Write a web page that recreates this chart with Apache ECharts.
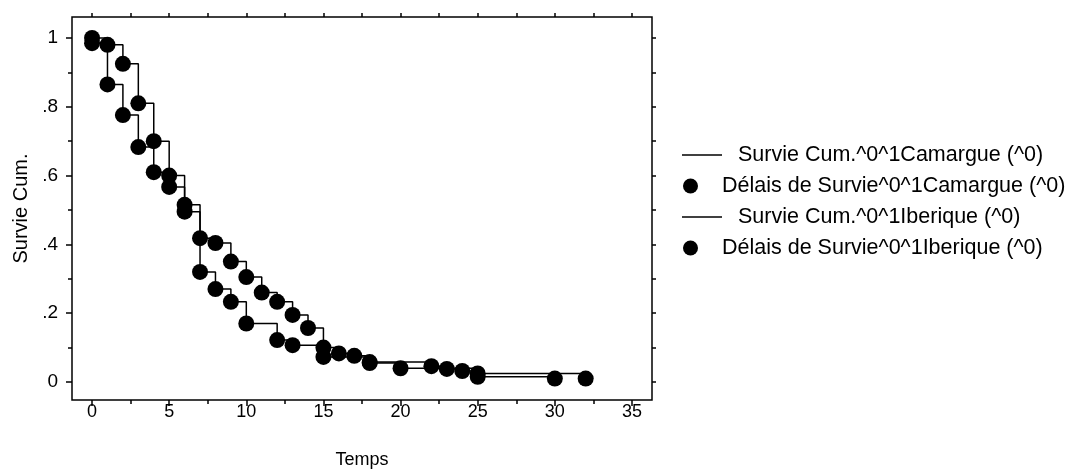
<!DOCTYPE html>
<html>
<head>
<meta charset="utf-8">
<title>Survie Cum.</title>
<script src="https://cdn.jsdelivr.net/npm/echarts@6/dist/echarts.min.js"></script>
<style>
    html, body { margin: 0; padding: 0; background: #fff; }
    #chart { width: 1069px; height: 470px; }
</style>
</head>
<body>
<div id="chart"></div>
<script>
    // valeurs
    var tempsCamargue = [0, 1, 2, 3, 4, 5, 6, 7, 8, 9, 10, 11, 12, 13, 14, 15, 16, 17, 18, 22, 23, 24, 25, 32];
    var survieCamargue = [1.0, 0.98, 0.925, 0.81, 0.70, 0.60, 0.515, 0.418, 0.404, 0.35, 0.305, 0.26, 0.233, 0.195, 0.157, 0.10, 0.083, 0.076, 0.058, 0.046, 0.038, 0.032, 0.025, 0.01];
    var tempsIberique = [0, 1, 2, 3, 4, 5, 6, 7, 8, 9, 10, 12, 13, 15, 18, 20, 25, 30];
    var survieIberique = [0.985, 0.865, 0.776, 0.683, 0.61, 0.567, 0.495, 0.32, 0.27, 0.233, 0.17, 0.122, 0.107, 0.073, 0.055, 0.04, 0.015, 0.01];

    var ticksX = [0, 5, 10, 15, 20, 25, 30, 35];
    var ticksXmin = [2.5, 7.5, 12.5, 17.5, 22.5, 27.5, 32.5];
    var ticksXtop = [0, 2.5, 5, 7.5, 10, 12.5, 15, 17.5, 20, 22.5, 25, 27.5, 30, 32.5, 35];
    var ticksY = [0, 0.2, 0.4, 0.6, 0.8, 1];
    var labelsY = ['0', '.2', '.4', '.6', '.8', '1'];
    var ticksYmin = [0.1, 0.3, 0.5, 0.7, 0.9];
    var ticksYright = [0, 0.1, 0.2, 0.3, 0.4, 0.5, 0.6, 0.7, 0.8, 0.9, 1];
    var noms = [
        'Survie Cum.^0^1Camargue (^0)',
        'Délais de Survie^0^1Camargue (^0)',
        'Survie Cum.^0^1Iberique (^0)',
        'Délais de Survie^0^1Iberique (^0)'
    ];

    function zip(xs, ys) {
        var out = [];
        for (var i = 0; i < xs.length; i++) out.push([xs[i], ys[i]]);
        return out;
    }

    var font = "'Liberation Sans', Arial, sans-serif";
    var myChart = echarts.init(document.getElementById('chart'));
    var tickLine = {color: '#000', width: 1.5};
    // le cadre va un peu au-dela des donnees
    var xMin = -1.3, xMax = 36.3, yMin = -0.0523, yMax = 1.061;

    function axeX(pos, ticks, len, extra) {
        return Object.assign({
            type: 'value', position: pos, min: xMin, max: xMax,
            axisLine: {show: false, onZero: false},
            axisTick: {show: true, length: len, customValues: ticks, lineStyle: tickLine},
            axisLabel: {show: false},
            splitLine: {show: false}
        }, extra || {});
    }
    function axeY(pos, ticks, len, extra) {
        return Object.assign({
            type: 'value', position: pos, min: yMin, max: yMax,
            axisLine: {show: false, onZero: false},
            axisTick: {show: true, length: len, customValues: ticks, lineStyle: tickLine},
            axisLabel: {show: false},
            splitLine: {show: false}
        }, extra || {});
    }

    myChart.setOption({
        animation: false,
        textStyle: {fontFamily: font, color: '#000'},
        grid: {
            left: 72, top: 17, right: 417, bottom: 70, outerBoundsMode: 'none',
            show: true, borderColor: '#000', borderWidth: 1.5, backgroundColor: 'transparent'
        },
        xAxis: [
            axeX('bottom', ticksX, 6, {
                name: 'Temps', nameLocation: 'middle', nameGap: 51,
                nameTextStyle: {fontSize: 18, color: '#000'},
                axisLabel: {show: true, customValues: ticksX, fontSize: 18, color: '#000', margin: 3}
            }),
            axeX('bottom', ticksXmin, 4),
            axeX('top', ticksXtop, 4)
        ],
        yAxis: [
            axeY('left', ticksY, 6, {
                name: 'Survie Cum.', nameLocation: 'middle', nameGap: 39,
                nameTextStyle: {fontSize: 20, color: '#000'},
                axisLabel: {
                    show: true, customValues: ticksY, fontSize: 19, color: '#000', margin: 14,
                    formatter: function (v) { return labelsY[Math.round(v / 0.2)]; }
                }
            }),
            axeY('left', ticksYmin, 4),
            axeY('right', ticksYright, 4)
        ],
        legend: [
            {
                data: [noms[0], noms[2]], orient: 'vertical', left: 682, top: 144, padding: 0,
                itemWidth: 40, itemHeight: 1.5, itemGap: 40, icon: 'rect', selectedMode: false,
                textStyle: {fontSize: 21.5, lineHeight: 22, color: '#000', fontFamily: font, padding: [0, 0, 0, 11]}
            },
            {
                data: [noms[1], noms[3]], orient: 'vertical', left: 683, top: 175, padding: 0,
                itemWidth: 15, itemHeight: 15, itemGap: 40, icon: 'circle', selectedMode: false,
                textStyle: {fontSize: 21.5, lineHeight: 22, color: '#000', fontFamily: font, padding: [0, 0, 0, 19]}
            }
        ],
        series: [
            {
                name: noms[0], type: 'line', step: 'end', symbol: 'none',
                data: zip(tempsCamargue, survieCamargue),
                itemStyle: {color: '#000'},
                lineStyle: {color: '#000', width: 1.5}
            },
            {
                name: noms[1], type: 'scatter', symbolSize: 16,
                data: zip(tempsCamargue, survieCamargue),
                itemStyle: {color: '#000', opacity: 1}
            },
            {
                name: noms[2], type: 'line', step: 'end', symbol: 'none',
                data: zip(tempsIberique, survieIberique),
                itemStyle: {color: '#000'},
                lineStyle: {color: '#000', width: 1.5}
            },
            {
                name: noms[3], type: 'scatter', symbolSize: 16,
                data: zip(tempsIberique, survieIberique),
                itemStyle: {color: '#000', opacity: 1}
            }
        ]
    });
</script>
</body>
</html>
